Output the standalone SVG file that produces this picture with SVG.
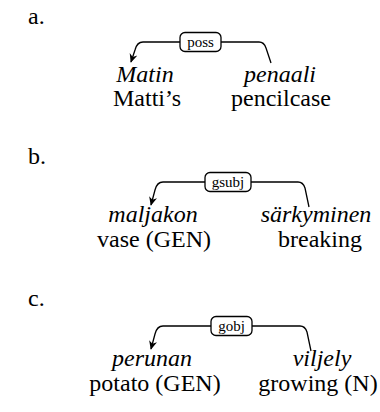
<svg xmlns="http://www.w3.org/2000/svg" width="380" height="412" viewBox="0 0 380 412">
<defs>
<style>
.t{font-family:"Liberation Serif","Times New Roman",serif;font-size:24px;fill:#000}
.i{font-style:italic}
.lb{font-family:"Liberation Serif","Times New Roman",serif;font-size:15px;fill:#000;text-anchor:middle}
.c{text-anchor:middle}
.box{fill:#fff;stroke:#000;stroke-width:1.3}
.arc{fill:none;stroke:#000;stroke-width:1.3}
</style>
<marker id="ah" viewBox="0 0 10 10" refX="9" refY="5" markerWidth="9" markerHeight="9" orient="auto" markerUnits="userSpaceOnUse">
<path d="M0,0.5 L10,5 L0,9.5 L3,5 Z" fill="#000"/>
</marker>
</defs>
<g id="connectors">
<path class="arc" d="M180,42 L143,42 Q137,42 135,50 L131,62" marker-end="url(#ah)"/>
<path class="arc" d="M221,42 L259,42 Q264,42 266,48 L271,63"/>
<path class="arc" d="M206,182 L163,182 Q157,182 155,190 L151,205" marker-end="url(#ah)"/>
<path class="arc" d="M251,182 L298,182 Q303,182 305,188 L309,207"/>
<path class="arc" d="M211,326 L163,326 Q157,326 155,334 L151,349" marker-end="url(#ah)"/>
<path class="arc" d="M252,326 L300,326 Q305,326 307,332 L311,351"/>
</g>
<g id="label-a"><text class="t" x="28" y="24">a.</text></g>
<g id="label-b"><text class="t" x="28" y="164">b.</text></g>
<g id="label-c"><text class="t" x="28" y="306">c.</text></g>
<g id="rel-a"><rect class="box" x="180" y="32.5" width="41" height="19" rx="5"/><text class="lb" x="200.5" y="47">poss</text></g>
<g id="rel-b"><rect class="box" x="205" y="172.5" width="46" height="19" rx="5"/><text class="lb" x="228" y="187">gsubj</text></g>
<g id="rel-c"><rect class="box" x="211" y="316.5" width="41" height="19" rx="5"/><text class="lb" x="231.5" y="331">gobj</text></g>
<g id="node-a1"><text class="t i c" x="145" y="82">Matin</text><text class="t c" x="147" y="106">Matti’s</text></g>
<g id="node-a2"><text class="t i c" x="280" y="82">penaali</text><text class="t c" x="281" y="106">pencilcase</text></g>
<g id="node-b1"><text class="t i c" x="153" y="222">maljakon</text><text class="t c" x="154" y="247">vase (GEN)</text></g>
<g id="node-b2"><text class="t i c" x="316" y="222">särkyminen</text><text class="t c" x="320" y="247">breaking</text></g>
<g id="node-c1"><text class="t i c" x="152" y="366">perunan</text><text class="t c" x="155" y="391">potato (GEN)</text></g>
<g id="node-c2"><text class="t i c" x="322" y="366">viljely</text><text class="t c" x="318" y="391">growing (N)</text></g>
</svg>
